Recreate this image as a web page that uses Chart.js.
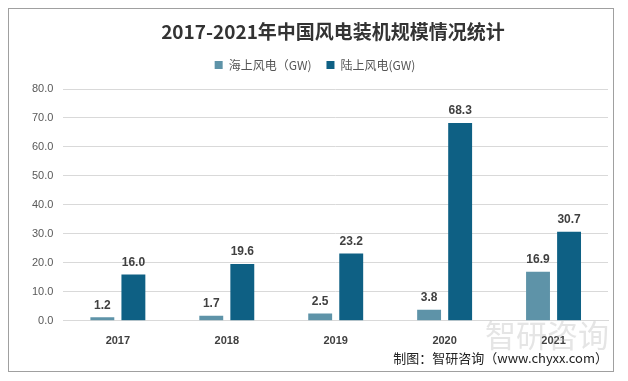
<!DOCTYPE html>
<html>
<head>
<meta charset="utf-8">
<script src="https://cdn.jsdelivr.net/npm/chart.js@4"></script>
<style>
  html, body { margin: 0; padding: 0; background: #fff; }
  #wrap { width: 628px; height: 381px; }
</style>
</head>
<body>
<div id="wrap"><canvas id="windChart" width="628" height="381"></canvas></div>
<script>
const years = ["2017", "2018", "2019", "2020", "2021"];
const offshore = [1.2, 1.7, 2.5, 3.8, 16.9];
const onshore = [16.0, 19.6, 23.2, 68.3, 30.7];
const seriesNames = ["海上风电（GW)", "陆上风电(GW)"];
const chartTitle = "2017-2021年中国风电装机规模情况统计";

const cjk = "'Noto Sans CJK SC', 'Microsoft YaHei', sans-serif";

// extra room under the legend
const legendGap = {
  id: "legendGap",
  afterInit(chart) {
    const lg = chart.legend;
    if (!lg) return;
    const fit = lg.fit;
    lg.fit = function () {
      fit.call(this);
      this.height += 8;
    };
  }
};

// frame, title, footer note and watermark
const decor = {
  id: "decor",
  beforeDraw(chart) {
    const c = chart.ctx;
    c.save();
    c.fillStyle = "#fff";
    c.fillRect(0, 0, chart.width, chart.height);
    c.restore();
  },
  afterDraw(chart) {
    const c = chart.ctx;
    c.save();
    c.strokeStyle = "#a0a0a0";
    c.lineWidth = 1;
    c.strokeRect(8.5, 8.5, 605, 363);

    c.font = "bold 19px " + cjk;
    c.fillStyle = "#333";
    c.textAlign = "center";
    c.textBaseline = "middle";
    c.fillText(chartTitle, 333, 32);

    c.font = "31px " + cjk;
    c.fillStyle = "rgba(180,180,180,0.35)";
    c.textAlign = "left";
    c.fillText("智研咨询", 485, 335);

    c.font = "13px " + cjk;
    c.fillStyle = "#222";
    c.textAlign = "right";
    c.fillText("制图：智研咨询（www.chyxx.com）", 608, 358);
    c.restore();
  }
};

// value labels above the bars
const barLabels = {
  id: "barLabels",
  afterDatasetsDraw(chart) {
    const c = chart.ctx;
    c.save();
    c.font = "bold 12px 'Liberation Sans', Arial, sans-serif";
    c.fillStyle = "#404040";
    c.textAlign = "center";
    c.textBaseline = "bottom";
    chart.data.datasets.forEach((ds, i) => {
      chart.getDatasetMeta(i).data.forEach((bar, j) => {
        c.fillText(ds.data[j].toFixed(1), bar.x, bar.y - 6);
      });
    });
    c.restore();
  }
};

new Chart(document.getElementById("windChart").getContext("2d"), {
  type: "bar",
  data: {
    labels: years,
    datasets: [
      {
        label: seriesNames[0],
        data: offshore,
        backgroundColor: "#5e93a8",
        categoryPercentage: 0.57,
        barPercentage: 0.77
      },
      {
        label: seriesNames[1],
        data: onshore,
        backgroundColor: "#0e6084",
        categoryPercentage: 0.57,
        barPercentage: 0.77
      }
    ]
  },
  options: {
    responsive: false,
    animation: false,
    layout: { padding: { left: 22, right: 20, top: 44, bottom: 27 } },
    plugins: {
      title: { display: false },
      legend: {
        position: "top",
        labels: {
          color: "#555",
          font: { family: cjk, size: 12 },
          boxWidth: 8,
          boxHeight: 8,
          padding: 15
        }
      },
      tooltip: { enabled: false }
    },
    scales: {
      x: {
        grid: { display: false },
        border: { color: "#d9d9d9" },
        ticks: {
          color: "#404040",
          font: { family: "'Liberation Sans', Arial, sans-serif", size: 11, weight: "bold" },
          padding: 6
        }
      },
      y: {
        min: 0,
        max: 80,
        grid: { color: "#d9d9d9", drawTicks: false },
        border: { display: false },
        ticks: {
          stepSize: 10,
          color: "#595959",
          font: { family: "'Liberation Sans', Arial, sans-serif", size: 11 },
          padding: 10,
          callback: v => v.toFixed(1)
        }
      }
    }
  },
  plugins: [legendGap, decor, barLabels]
});
</script>
</body>
</html>
